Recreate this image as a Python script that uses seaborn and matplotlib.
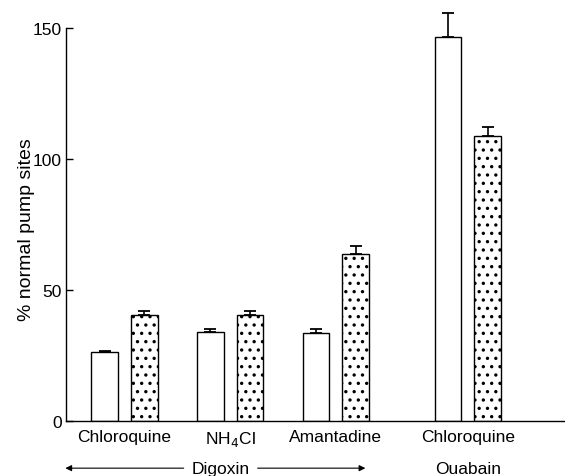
import numpy as np
import pandas as pd
import matplotlib
matplotlib.use("Agg")
import matplotlib.pyplot as plt
import matplotlib.transforms as mtransforms
import seaborn as sns

# Drug treatments (x groups) and the cardiac glycoside used
categories = ["Chloroquine", "NH$_4$Cl", "Amantadine", "Chloroquine"]
glycosides = ["Digoxin", "Digoxin", "Digoxin", "Ouabain"]

# % of normal pump sites, open bars and stippled bars
open_values = [26.2, 33.8, 33.6, 146.7]
open_errors = [0.6, 1.3, 1.4, 8.9]
dotted_values = [40.5, 40.5, 63.6, 108.6]
dotted_errors = [1.5, 1.3, 3.1, 3.8]

y_ticks = [0, 50, 100, 150]
y_label = "% normal pump sites"

# Layout: group centres on a numeric axis (Ouabain group set apart)
group_x = [0.0, 1.0, 2.0, 3.25]

sns.set_style("ticks")
plt.rcParams["font.family"] = ["Liberation Sans", "DejaVu Sans"]
plt.rcParams["hatch.linewidth"] = 1.2
plt.rcParams["hatch.color"] = "black"
for key in ["text.color", "axes.labelcolor", "xtick.color", "ytick.color",
            "axes.edgecolor"]:
    plt.rcParams[key] = "black"

df = pd.DataFrame({
    "x": group_x * 2,
    "value": open_values + dotted_values,
    "series": ["open"] * 4 + ["dotted"] * 4,
})

fig = plt.figure(figsize=(5.65, 4.77), dpi=100)
ax = fig.add_axes([66 / 565, 55 / 477, 1 - 66 / 565, 393 / 477])

sns.barplot(
    data=df, x="x", y="value", hue="series", hue_order=["open", "dotted"],
    palette={"open": "white", "dotted": "white"}, saturation=1,
    native_scale=True, width=0.75, gap=0.33, errorbar=None,
    edgecolor="black", linewidth=1.0, legend=False, ax=ax,
)

for patch in ax.containers[1]:
    patch.set_hatch("..")

# Upper error bars only
for cont, errs, vals in zip(ax.containers, [open_errors, dotted_errors],
                            [open_values, dotted_values]):
    xs = [p.get_x() + p.get_width() / 2 for p in cont]
    ax.errorbar(xs, vals, yerr=[np.zeros(len(errs)), errs], fmt="none",
                ecolor="black", elinewidth=1.2, capsize=4.5, capthick=1.3,
                clip_on=False, zorder=3)

ax.set_xlim(-0.554, 4.17)
ax.set_ylim(0, 150)
ax.set_yticks(y_ticks)
ax.set_yticklabels([str(t) for t in y_ticks])
ax.set_xticks(group_x)
ax.set_xticklabels(categories)
ax.tick_params(axis="y", direction="in", length=5, width=1.0, pad=3,
               labelsize=12.5, color="black", labelcolor="black")
ax.tick_params(axis="x", length=0, pad=6, labelsize=12.5, labelcolor="black")
ax.set_xlabel("")
ax.set_ylabel(y_label, fontsize=14, color="black")
ax.yaxis.set_label_coords(-0.062, 0.49)

for side in ["top", "right"]:
    ax.spines[side].set_visible(False)
for side in ["left", "bottom"]:
    ax.spines[side].set_color("black")
    ax.spines[side].set_linewidth(1.0)

# Glycoside row beneath the treatment labels
trans = mtransforms.blended_transform_factory(ax.transData, ax.transAxes)
row_y = -0.12
ax.text(0.915, row_y, "Digoxin", transform=trans, ha="center", va="center",
        fontsize=12.5, color="black")
ax.text(group_x[3], row_y, "Ouabain", transform=trans, ha="center",
        va="center", fontsize=12.5, color="black")
arrow_kw = dict(arrowstyle="-|>", lw=0.8, color="black", mutation_scale=9,
                shrinkA=0, shrinkB=0)
ax.annotate("", xy=(-0.56, row_y), xytext=(0.56, row_y), xycoords=trans,
            textcoords=trans, arrowprops=arrow_kw, annotation_clip=False)
ax.annotate("", xy=(2.28, row_y), xytext=(1.26, row_y), xycoords=trans,
            textcoords=trans, arrowprops=arrow_kw, annotation_clip=False)

fig.savefig("out.png", dpi=100)
